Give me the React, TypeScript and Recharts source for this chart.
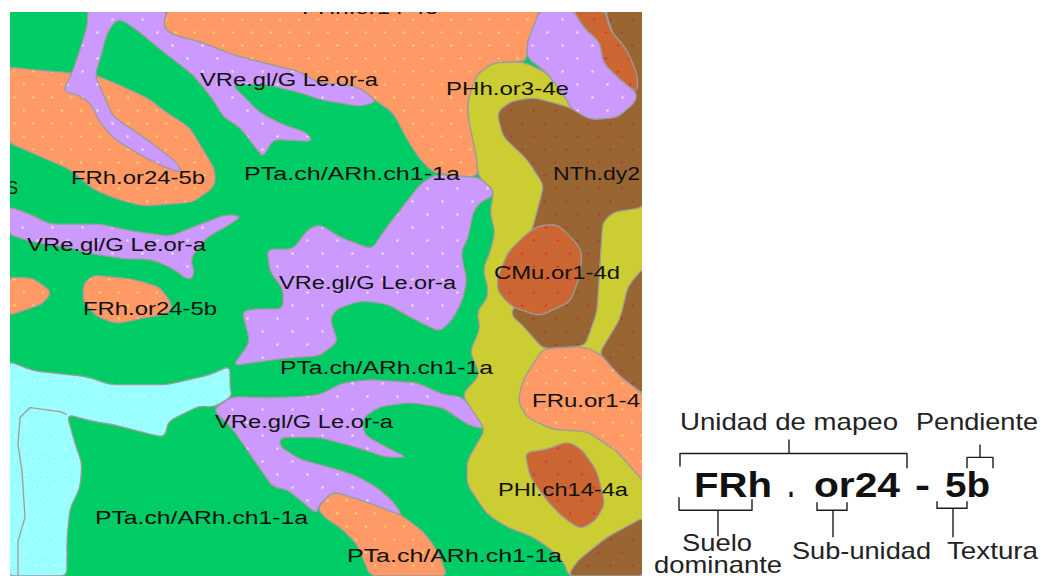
// Soil map with its legend key, drawn as closed outlines on a pixel-sized number scale.
import { ScatterChart, Scatter, XAxis, YAxis } from "recharts";

type Pair = [number, number];

const WIDTH = 1041;
const HEIGHT = 576;

// map units, outlines
const baseGreen: Pair[] = [[8, 10], [644, 10], [644, 578], [8, 578]];
const orangeTop: Pair[] = [[167, 10], [540, 10], [527, 43], [527, 58], [523, 62], [493, 63], [477, 75], [468, 100], [468, 117], [477, 160], [478, 177], [460, 177], [433, 173], [420, 160], [407, 140], [393, 113], [377, 102], [360, 88], [340, 84], [320, 84], [300, 72], [263, 63], [233, 55], [200, 42], [173, 35], [163, 27]];
const orangeLeft: Pair[] = [[8, 67], [33, 70], [70, 73], [95, 75], [123, 87], [147, 98], [167, 113], [190, 128], [203, 150], [215, 170], [215, 187], [193, 203], [143, 207], [117, 200], [93, 190], [70, 170], [40, 157], [8, 143]];
const purpleTop: Pair[] = [[87, 10], [167, 10], [163, 27], [173, 35], [200, 42], [233, 55], [263, 63], [300, 72], [320, 84], [340, 84], [360, 88], [377, 102], [360, 107], [320, 100], [300, 93], [267, 85], [232, 85], [260, 113], [283, 125], [307, 133], [313, 142], [273, 140], [263, 158], [257, 150], [240, 128], [223, 117], [213, 100], [193, 75], [163, 52], [143, 35], [127, 23], [117, 19], [107, 33], [100, 60], [95, 75], [100, 87], [113, 117], [147, 140], [177, 163], [182, 173], [170, 170], [143, 157], [115, 140], [100, 123], [90, 103], [78, 95], [63, 92], [72, 73], [80, 50], [88, 23]];
const purpleMidLeft: Pair[] = [[8, 207], [30, 215], [50, 225], [100, 225], [133, 232], [170, 237], [200, 225], [227, 215], [242, 217], [227, 227], [207, 238], [190, 260], [195, 273], [190, 282], [170, 268], [150, 260], [127, 260], [93, 255], [67, 248], [33, 243], [8, 235]];
const orangeSmall: Pair[] = [[8, 278], [33, 279], [52, 293], [43, 305], [8, 317]];
const orangeMid: Pair[] = [[83, 285], [93, 276], [133, 280], [160, 288], [173, 307], [167, 315], [140, 320], [117, 325], [97, 318], [83, 303]];
const cyanWater: Pair[] = [[8, 362], [33, 372], [87, 378], [110, 386], [167, 386], [210, 376], [230, 367], [230, 389], [232, 398], [213, 409], [200, 407], [168, 423], [165, 439], [143, 434], [113, 426], [93, 423], [67, 416], [75, 445], [82, 465], [80, 490], [70, 510], [67, 540], [67, 578], [8, 578]];
const purpleCentre: Pair[] = [[435, 175], [460, 177], [480, 178], [493, 190], [493, 197], [480, 203], [473, 213], [468, 240], [462, 250], [462, 260], [467, 280], [463, 300], [453, 320], [440, 333], [413, 320], [387, 305], [360, 302], [337, 310], [330, 320], [338, 343], [320, 357], [280, 360], [233, 367], [250, 343], [242, 313], [253, 310], [283, 310], [283, 290], [270, 273], [267, 250], [293, 250], [308, 230], [320, 225], [340, 238], [372, 250], [383, 233], [403, 207], [420, 185]];
const purpleLow: Pair[] = [[232, 398], [267, 399], [300, 398], [320, 396], [343, 384], [370, 381], [417, 384], [443, 396], [462, 398], [477, 416], [485, 431], [467, 426], [443, 409], [410, 404], [380, 408], [363, 419], [363, 431], [367, 438], [387, 449], [407, 459], [387, 459], [353, 448], [320, 439], [280, 439], [280, 448], [300, 461], [330, 469], [353, 476], [377, 489], [393, 503], [403, 518], [370, 505], [333, 493], [318, 508], [317, 516], [287, 491], [273, 489], [257, 466], [233, 431], [213, 411]];
const orangeBottom: Pair[] = [[317, 510], [333, 493], [353, 499], [387, 509], [403, 518], [423, 533], [435, 549], [443, 566], [447, 578], [370, 578], [357, 546], [340, 529], [325, 520]];
const yellowBelt: Pair[] = [[523, 62], [493, 63], [477, 75], [468, 100], [468, 117], [477, 160], [478, 177], [493, 190], [493, 197], [490, 213], [495, 233], [490, 253], [483, 270], [488, 290], [487, 300], [477, 312], [480, 330], [470, 353], [480, 376], [462, 396], [485, 431], [467, 463], [467, 486], [487, 516], [507, 529], [533, 539], [553, 553], [565, 566], [568, 578], [644, 578], [644, 200], [570, 108], [567, 100], [547, 73]];
const brownEast: Pair[] = [[605, 10], [644, 10], [644, 208], [613, 213], [603, 223], [602, 233], [597, 313], [585, 347], [543, 350], [523, 327], [510, 315], [520, 300], [525, 250], [533, 227], [543, 190], [542, 183], [527, 160], [503, 137], [497, 113], [510, 102], [533, 98], [553, 103], [570, 108], [590, 120], [617, 118], [635, 102]];
const brownRight: Pair[] = [[644, 268], [628, 287], [620, 320], [599, 355], [620, 378], [644, 396]];
const brownCorner: Pair[] = [[568, 578], [577, 563], [607, 539], [644, 519], [644, 578]];
const rustTop: Pair[] = [[573, 10], [583, 27], [600, 43], [603, 63], [620, 80], [637, 93], [638, 77], [627, 50], [610, 30], [605, 10]];
const purpleNorth: Pair[] = [[540, 10], [573, 10], [583, 27], [600, 43], [603, 63], [620, 80], [637, 93], [635, 103], [617, 118], [590, 120], [570, 108], [567, 100], [547, 73], [527, 58], [527, 43]];
const rustCmu: Pair[] = [[537, 227], [557, 225], [573, 240], [582, 252], [580, 277], [570, 303], [540, 317], [512, 308], [498, 293], [497, 280], [508, 253], [523, 238]];
const orangeFru: Pair[] = [[543, 350], [585, 348], [600, 355], [620, 378], [644, 396], [644, 484], [617, 453], [587, 433], [553, 431], [527, 419], [518, 403], [523, 381]];
const rustPhi: Pair[] = [[525, 454], [547, 451], [568, 443], [582, 451], [597, 473], [605, 506], [595, 523], [580, 531], [563, 519], [550, 506], [530, 479]];

// shore line inside the water, open at the bottom
const shoreLine: Pair[] = [[67, 416], [60, 413], [30, 409], [20, 419], [18, 446], [22, 473], [25, 519], [18, 543], [18, 578]];

// map labels: text, then left end, right end and baseline
const mapLabels = ["PHh.or14-4e", "S", "VRe.gl/G Le.or-a", "PHh.or3-4e", "FRh.or24-5b", "PTa.ch/ARh.ch1-1a", "NTh.dy2", "VRe.gl/G Le.or-a", "VRe.gl/G Le.or-a", "CMu.or1-4d", "FRh.or24-5b", "PTa.ch/ARh.ch1-1a", "FRu.or1-4", "VRe.gl/G Le.or-a", "PHl.ch14-4a", "PTa.ch/ARh.ch1-1a", "PTa.ch/ARh.ch1-1a"];
const mapLabelX = [302, 7, 200, 446, 71, 244, 553, 27, 279, 494, 83, 280, 532, 215, 498, 95, 347];
const mapLabelEnd = [438, 18, 378, 569, 205, 460, 640, 206, 456, 620, 217, 493, 640, 393, 628, 308, 562];
const mapLabelY = [14, 195, 86, 95, 185, 181, 181, 252, 290, 280, 316, 375, 408, 429, 498, 526, 564];

// legend key
const keyLabels = ["Unidad de mapeo", "Pendiente", "Suelo", "dominante", "Sub-unidad", "Textura"];
const keyLabelX = [680, 916, 682, 654, 792, 947];
const keyLabelEnd = [898, 1038, 752, 782, 931, 1038];
const keyLabelY = [431, 431, 553, 575, 561, 561];
const codeParts = ["FRh", ".", "or24", "-", "5b"];
const codePartX = [694, 788, 814, 915, 945];
const codePartEnd = [772, 794, 900, 930, 990];
const codePartY = [499, 499, 499, 499, 499];

const keyBrackets: Pair[][] = [
  [[680, 468], [680, 455], [907, 455], [907, 470]],
  [[789, 441], [789, 455]],
  [[967, 470], [967, 459], [993, 459], [993, 470]],
  [[980, 446], [980, 459]],
  [[679, 499], [679, 512], [752, 512], [752, 501]],
  [[718, 512], [718, 538]],
  [[817, 504], [817, 512], [847, 512], [847, 504]],
  [[833, 512], [833, 539]],
  [[937, 503], [937, 510], [967, 510], [967, 503]],
  [[953, 510], [953, 539]],
];

const layers: [Pair[], string][] = [
  [baseGreen, "url(#dotGreen)"],
  [cyanWater, "url(#dotCyan)"],
  [orangeTop, "url(#dotOrange)"],
  [orangeLeft, "url(#dotOrange)"],
  [orangeSmall, "url(#dotOrange)"],
  [orangeMid, "url(#dotOrange)"],
  [orangeBottom, "url(#dotOrange)"],
  [purpleTop, "url(#dotPurple)"],
  [purpleMidLeft, "url(#dotPurple)"],
  [purpleCentre, "url(#dotPurple)"],
  [purpleLow, "url(#dotPurple)"],
  [yellowBelt, "#CCCC33"],
  [brownEast, "url(#dotBrown)"],
  [brownRight, "url(#dotBrown)"],
  [brownCorner, "url(#dotBrown)"],
  [rustTop, "url(#dotRust)"],
  [purpleNorth, "url(#dotPurple)"],
  [rustCmu, "url(#dotRust)"],
  [orangeFru, "url(#dotOrange)"],
  [rustPhi, "url(#dotRust)"],
];

const toPoints = (pairs: Pair[]) => pairs.map(([x, y]) => ({ x, y }));

const toRows = (names: string[], xs: number[], ends: number[], ys: number[]) =>
  names.map((name, i) => ({ name, x: xs[i], y: ys[i], span: ends[i] - xs[i] }));

type Pt = { x: number; y: number };

// straight runs with the corners rounded off, the map's edges are soft
function roundedPath(points: Pt[], closed: boolean, radius: number) {
  const n = points.length;
  const toward = (from: Pt, to: Pt) => {
    const len = Math.hypot(to.x - from.x, to.y - from.y) || 1;
    const t = Math.min(0.5, radius / len);
    return { x: from.x + (to.x - from.x) * t, y: from.y + (to.y - from.y) * t };
  };
  if (!closed) return points.map((p, i) => `${i ? "L" : "M"}${p.x},${p.y}`).join(" ");
  let d = "";
  points.forEach((p, i) => {
    const a = toward(p, points[(i - 1 + n) % n]);
    const b = toward(p, points[(i + 1) % n]);
    d += `${i ? "L" : "M"}${a.x},${a.y} Q${p.x},${p.y} ${b.x},${b.y} `;
  });
  return d + "Z";
}

const noDot = () => <g />;

function outline(fill: string, stroke: string, width: number, closed: boolean, clip: boolean) {
  return (props: any) => (
    <path
      d={roundedPath(props.points, closed, 7)}
      fill={fill}
      stroke={stroke}
      strokeWidth={width}
      strokeLinejoin="round"
      clipPath={clip ? "url(#mapClip)" : undefined}
    />
  );
}

function labelShape(size: number, weight: number, color: string, clip: boolean) {
  return (props: any) => (
    <g clipPath={clip ? "url(#mapClip)" : undefined}>
      <text
        x={props.cx}
        y={props.cy}
        fontFamily="'Liberation Sans', Arial, sans-serif"
        fontSize={size}
        fontWeight={weight}
        fill={color}
        textLength={props.payload.span}
        lengthAdjust="spacingAndGlyphs"
      >
        {props.payload.name}
      </text>
    </g>
  );
}

function Dots({ id, bg, dot, w, h, r }: { id: string; bg: string; dot: string; w: number; h: number; r: number }) {
  return (
    <pattern id={id} width={w} height={h} patternUnits="userSpaceOnUse">
      <rect width={w} height={h} fill={bg} />
      <circle cx={w / 4} cy={h / 4} r={r} fill={dot} />
      <circle cx={(w * 3) / 4} cy={(h * 3) / 4} r={r} fill={dot} />
    </pattern>
  );
}

export default function App() {
  return (
    <div style={{ position: "absolute", left: 0, top: 0, width: WIDTH, height: HEIGHT, background: "#fff" }}>
      <ScatterChart width={WIDTH} height={HEIGHT} margin={{ top: 0, right: 0, bottom: 0, left: 0 }}>
        <defs>
          <clipPath id="mapClip">
            <rect x={10} y={12} width={632} height={564} />
          </clipPath>
          <Dots id="dotGreen" bg="#00CC66" dot="#00B85A" w={20} h={26} r={0.8} />
          <Dots id="dotCyan" bg="#99FFFF" dot="#CCFFFF" w={20} h={26} r={1.1} />
          <Dots id="dotOrange" bg="#FF9966" dot="#FFCC66" w={19} h={26} r={1.3} />
          <Dots id="dotPurple" bg="#CC99FF" dot="#E9DEFF" w={30} h={26} r={1.3} />
          <Dots id="dotBrown" bg="#996633" dot="#B83A2E" w={22} h={26} r={1.2} />
          <Dots id="dotRust" bg="#CC6633" dot="#DD3333" w={24} h={26} r={1.2} />
        </defs>
        <XAxis type="number" dataKey="x" domain={[0, WIDTH]} hide />
        <YAxis type="number" dataKey="y" domain={[0, HEIGHT]} reversed hide />
        {layers.map(([pairs, fill], i) => (
          <Scatter
            key={i}
            data={toPoints(pairs)}
            line={outline(fill, i === 0 ? "none" : "#9C9C9C", 1.3, true, true)}
            shape={noDot}
            isAnimationActive={false}
          />
        ))}
        <Scatter
          data={toPoints(shoreLine)}
          line={outline("none", "#A89898", 1.3, false, true)}
          shape={noDot}
          isAnimationActive={false}
        />
        {keyBrackets.map((pairs, i) => (
          <Scatter
            key={`bracket-${i}`}
            data={toPoints(pairs)}
            line={outline("none", "#1c1c1c", 1.4, false, false)}
            shape={noDot}
            isAnimationActive={false}
          />
        ))}
        <Scatter
          data={toRows(mapLabels, mapLabelX, mapLabelEnd, mapLabelY)}
          shape={labelShape(18, 400, "#111", true)}
          isAnimationActive={false}
        />
        <Scatter
          data={toRows(keyLabels, keyLabelX, keyLabelEnd, keyLabelY)}
          shape={labelShape(24, 400, "#222", false)}
          isAnimationActive={false}
        />
        <Scatter
          data={toRows(codeParts, codePartX, codePartEnd, codePartY)}
          shape={labelShape(35, 700, "#111", false)}
          isAnimationActive={false}
        />
      </ScatterChart>
    </div>
  );
}
